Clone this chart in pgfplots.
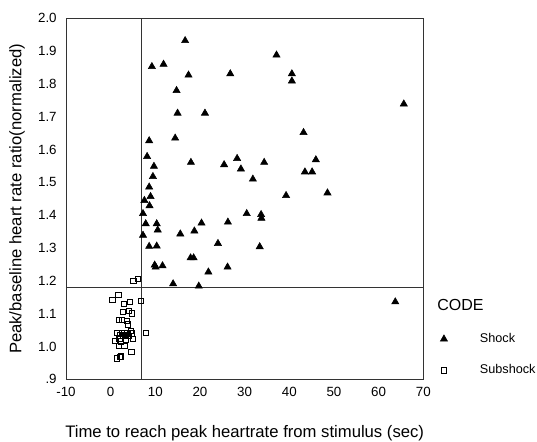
\documentclass[border=0pt]{standalone}
\usepackage{fontspec}
\setmainfont{Liberation Sans}
\usepackage{pgfplots}
\pgfplotsset{compat=1.18}

\pgfplotstableread{
x y
16.67 1.932
37.13 1.888
9.23 1.853
11.84 1.860
17.43 1.827
26.78 1.831
40.57 1.831
40.57 1.809
14.75 1.780
65.63 1.739
14.98 1.711
21.11 1.711
43.18 1.652
14.44 1.635
8.62 1.627
8.16 1.579
28.31 1.573
17.97 1.561
25.40 1.554
34.37 1.561
45.94 1.569
9.69 1.549
29.16 1.541
43.49 1.532
45.10 1.532
9.46 1.518
31.84 1.510
8.62 1.486
48.54 1.468
39.27 1.460
8.93 1.457
7.55 1.445
8.70 1.429
7.24 1.405
30.46 1.405
33.68 1.402
33.75 1.391
7.85 1.374
10.31 1.374
20.34 1.376
26.25 1.379
10.54 1.355
18.74 1.352
15.59 1.343
7.24 1.339
24.02 1.314
8.62 1.305
10.31 1.306
33.37 1.304
17.89 1.270
18.58 1.270
9.85 1.248
10.08 1.242
11.61 1.246
26.17 1.242
21.88 1.227
13.98 1.191
19.73 1.184
63.72 1.136
}\shock

\pgfplotstableread{
x y
5.06 1.200
6.03 1.206
1.71 1.157
0.37 1.142
4.32 1.137
6.78 1.140
2.98 1.131
2.68 1.106
4.02 1.109
4.69 1.101
1.78 1.081
2.45 1.081
3.57 1.078
3.87 1.068
1.33 1.042
2.45 1.042
3.05 1.042
3.72 1.040
4.47 1.047
4.77 1.040
7.90 1.042
2.08 1.034
2.83 1.032
3.42 1.036
3.95 1.032
1.93 1.023
3.42 1.021
4.91 1.023
0.96 1.018
2.30 1.016
1.78 1.003
3.05 1.003
4.62 0.983
2.30 0.970
1.33 0.964
2.08 0.968
}\subshock

\begin{document}
\begin{tikzpicture}
\useasboundingbox (0,0) rectangle (402.75pt,331.5pt);
\begin{axis}[
    at={(49.5pt,47pt)}, anchor=south west,
    scale only axis,
    width=268pt, height=270.75pt,
    xmin=-10, xmax=70,
    ymin=0.9, ymax=2.0,
    clip mode=individual,
    xtick={-10,0,10,20,30,40,50,60,70},
    ytick={0.9,1.0,1.1,1.2,1.3,1.4,1.5,1.6,1.7,1.8,1.9,2.0},
    yticklabels={.9,1.0,1.1,1.2,1.3,1.4,1.5,1.6,1.7,1.8,1.9,2.0},
    major tick length=0pt,
    /pgf/number format/assume math mode=true,
    tick label style={font=\fontsize{10}{11}\selectfont},
    xticklabel style={yshift=-2.5pt},
    yticklabel style={xshift=-3.5pt},
    axis line style={black!80, line width=0.7pt},
    xlabel={Time to reach peak heartrate from stimulus (sec)},
    ylabel={Peak/baseline heart rate ratio(normalized)},
    label style={font=\fontsize{12.5}{14}\selectfont},
    xlabel style={at={(axis description cs:0.5,-0.149)}, anchor=center},
    ylabel style={at={(axis description cs:-0.137,0.5)}, anchor=center, rotate=0},
    legend style={at={(axis description cs:1.047,0.0684)}, anchor=west,
        draw=none, fill=none, inner xsep=0pt, inner ysep=0pt,
        row sep=11pt, font=\fontsize{9.5}{11}\selectfont},
    legend cell align=left,
    /tikz/every odd column/.append style={column sep=22.3pt},
]
\addplot[black!80, line width=0.7pt, forget plot] coordinates {(7,0.9) (7,2.0)};
\addplot[black!80, line width=0.7pt, forget plot] coordinates {(-10,1.18) (70,1.18)};
\addplot[only marks, mark=triangle*, mark size=3.1pt, black] table {\shock};
\addplot[only marks, mark=square, mark size=2pt, black, mark options={line width=0.5pt}] table {\subshock};
\legend{Shock, Subshock}
\node[anchor=west, font=\fontsize{12}{14}\selectfont] at (axis description cs:1.026,0.206) {CODE};
\end{axis}
\end{tikzpicture}
\end{document}
